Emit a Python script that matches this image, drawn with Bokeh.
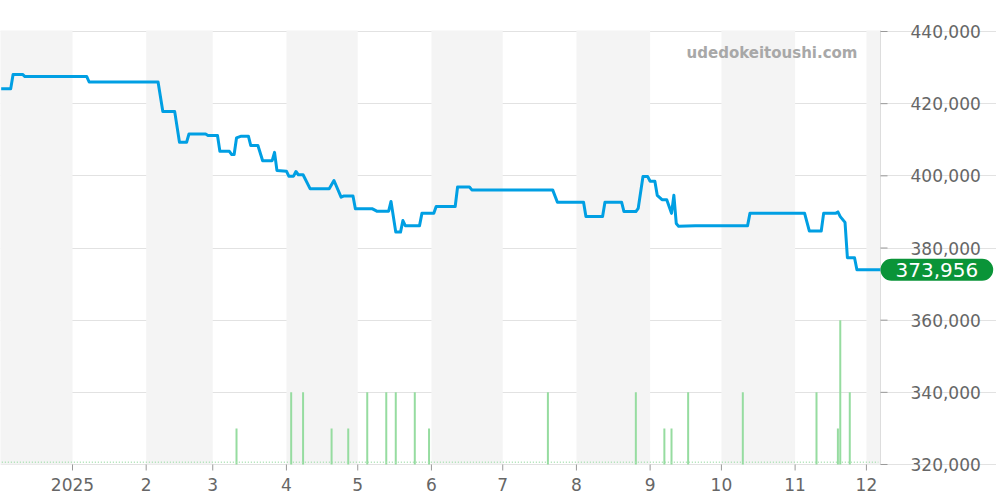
import pandas as pd
from bokeh.plotting import figure
from bokeh.models import (FixedTicker, CustomJSTickFormatter, Range1d, Label, BoxAnnotation)
from bokeh.core.properties import value
from bokeh.embed import file_html
from bokeh.resources import INLINE

# ---- price series (step-like line) ----
line_dates = ["2024-12-02", "2024-12-06", "2024-12-07", "2024-12-11", "2024-12-12", "2025-01-07",
              "2025-01-08", "2025-02-06", "2025-02-08", "2025-02-13", "2025-02-15", "2025-02-18",
              "2025-02-19", "2025-02-26", "2025-02-27", "2025-03-03", "2025-03-04", "2025-03-08",
              "2025-03-09", "2025-03-10", "2025-03-11", "2025-03-13", "2025-03-16", "2025-03-17",
              "2025-03-20", "2025-03-22", "2025-03-26", "2025-03-27", "2025-03-28", "2025-04-01",
              "2025-04-02", "2025-04-04", "2025-04-05", "2025-04-06", "2025-04-08", "2025-04-11",
              "2025-04-19", "2025-04-21", "2025-04-24", "2025-04-25", "2025-04-29", "2025-04-30",
              "2025-05-07", "2025-05-09", "2025-05-14", "2025-05-15", "2025-05-17", "2025-05-19",
              "2025-05-20", "2025-05-21", "2025-05-27", "2025-05-28", "2025-06-02", "2025-06-03",
              "2025-06-11", "2025-06-12", "2025-06-17", "2025-06-18", "2025-07-22", "2025-07-24",
              "2025-08-04", "2025-08-05", "2025-08-12", "2025-08-13", "2025-08-20", "2025-08-21",
              "2025-08-26", "2025-08-27", "2025-08-29", "2025-08-31", "2025-09-01", "2025-09-03",
              "2025-09-04", "2025-09-06", "2025-09-08", "2025-09-10", "2025-09-11", "2025-09-12",
              "2025-09-13", "2025-09-20", "2025-10-12", "2025-10-13", "2025-11-05", "2025-11-07",
              "2025-11-12", "2025-11-13", "2025-11-18", "2025-11-19", "2025-11-20", "2025-11-22",
              "2025-11-23", "2025-11-26", "2025-11-27", "2025-12-06T21:00"]
line_prices = [424100, 424100, 428100, 428100, 427500, 427500,
               426000, 426000, 417800, 417800, 409300, 409300,
               411600, 411600, 411200, 411200, 406800, 406800,
               405900, 405900, 410500, 411000, 411000, 408400,
               408400, 404200, 404200, 406500, 401500, 401300,
               399900, 399900, 401200, 400300, 400300, 396400,
               396400, 398700, 394100, 394400, 394400, 390900,
               390900, 390200, 390200, 392900, 384400, 384400,
               387600, 386200, 386200, 389600, 389600, 391500,
               391500, 396900, 396900, 396100, 396100, 392700,
               392700, 388700, 388700, 392700, 392700, 390100,
               390100, 391000, 399800, 399800, 398500, 398500,
               394600, 393400, 393400, 389600, 394600, 386800,
               386000, 386200, 386200, 389600, 389600, 384700,
               384700, 389600, 389600, 390000, 388700, 387100,
               377300, 377300, 373956, 373956]
latest_price = 373956
latest_label = "373,956"

# ---- volume (counts) ----
vol_dates = ["2025-03-11", "2025-04-03", "2025-04-08", "2025-04-20", "2025-04-27", "2025-05-05",
             "2025-05-13", "2025-05-17", "2025-05-25", "2025-05-31", "2025-07-20", "2025-08-26",
             "2025-09-07", "2025-09-10", "2025-09-17", "2025-10-10", "2025-11-10", "2025-11-19",
             "2025-11-20", "2025-11-24"]
vol_counts = [1, 2, 2, 1, 1, 2, 2, 2, 2, 1, 2, 2, 1, 1, 2, 2, 2, 1, 4, 2]

# ---- axes ----
y_ticks = [320000, 340000, 360000, 380000, 400000, 420000, 440000]
y_tick_labels = ["320,000", "340,000", "360,000", "380,000", "400,000", "420,000", "440,000"]
month_ticks = ["2025-01-01", "2025-02-01", "2025-03-01", "2025-04-01", "2025-05-01", "2025-06-01",
               "2025-07-01", "2025-08-01", "2025-09-01", "2025-10-01", "2025-11-01", "2025-12-01"]
shaded_months = [("2024-11-01", "2025-01-01"), ("2025-02-01", "2025-03-01"), ("2025-04-01", "2025-05-01"),
                 ("2025-06-01", "2025-07-01"), ("2025-08-01", "2025-09-01"), ("2025-10-01", "2025-11-01"),
                 ("2025-12-01", "2026-01-01")]
watermark = "udedokeitoushi.com"

def ms(s):
    return pd.Timestamp(s).value / 1e6

DAY = 86400000.0
PXD = 2.377                       # pixels per day
PXV = 3.608 / 1000                # pixels per price unit
x_start = ms("2025-01-01") - 72 / PXD * DAY
data_end = x_start + 880 / PXD * DAY      # right edge of the plotting area
x_end = x_start + 996 / PXD * DAY         # includes the right-hand scale area
y_lo, y_hi = 320000, 440300               # plotting area
y_start = y_lo - 10 / PXV                 # room for the scale's edge labels
y_end = 440000 + 11 / PXV
VOL_UNIT = 10000                          # one trade = 10,000 on the price scale

p = figure(frame_width=996, frame_height=454, x_axis_type="datetime", y_axis_location="right",
           output_backend="svg", toolbar_location=None,
           x_range=Range1d(x_start, x_end), y_range=Range1d(y_start, y_end),
           min_border_left=0, min_border_top=20, min_border_right=0, min_border_bottom=26)
p.outline_line_color = None
p.background_fill_color = "white"
p.border_fill_color = "white"
p.yaxis.visible = False

for a, b in shaded_months:
    p.add_layout(BoxAnnotation(left=ms(a), right=min(ms(b), data_end), bottom=y_lo, top=y_hi,
                               fill_color="#f4f4f4", fill_alpha=1, line_color=None, level="underlay"))

p.xgrid.visible = False
p.ygrid.grid_line_color = "#e2e2e2"
p.ygrid.ticker = FixedTicker(ticks=y_ticks)
p.ygrid.bounds = (x_start, data_end)

# right-hand value scale
p.segment(x0=[data_end], y0=[y_lo], x1=[data_end], y1=[y_hi], line_color="#dddddd", line_width=1)
p.segment(x0=[data_end] * len(y_ticks), y0=y_ticks, x1=[data_end + 7 / PXD * DAY] * len(y_ticks),
          y1=y_ticks, line_color="#999999", line_width=1)
p.text(x=[data_end + 30 / PXD * DAY] * len(y_ticks), y=y_ticks, text=y_tick_labels,
       text_font=value("DejaVu Sans"), text_font_size="17px", text_color="#666666",
       text_align="left", text_baseline="middle")

# month tick marks below the plotting area
mt = [ms(t) for t in month_ticks]
p.segment(x0=mt, y0=[y_lo] * len(mt), x1=mt, y1=[y_lo - 6 / PXV] * len(mt),
          line_color="#999999", line_width=1)

# volume on its own range (0 at the bottom of the plotting area)
p.extra_y_ranges = {"vol": Range1d((y_start - y_lo) / VOL_UNIT, (y_end - y_lo) / VOL_UNIT)}
vd = pd.to_datetime(vol_dates)
p.segment(x0=vd, y0=[0] * len(vol_counts), x1=vd, y1=vol_counts, y_range_name="vol",
          line_color="#96dca0", line_width=2)
p.line(x=pd.to_datetime(["2024-12-01", "2025-12-06"]), y=[0.06, 0.06], y_range_name="vol",
       line_color="#a8e0b0", line_width=1.5, line_dash="1 2")

# price line
p.line(x=pd.to_datetime(line_dates, format="ISO8601"), y=line_prices, line_color="#009fe3",
       line_width=3, line_join="round")

xa = p.xaxis[0]
xa.ticker = FixedTicker(ticks=mt)
xa.formatter = CustomJSTickFormatter(code="""
const d = new Date(tick);
const m = d.getUTCMonth() + 1;
return m == 1 ? String(d.getUTCFullYear()) : String(m);
""")
xa.major_label_text_font = "DejaVu Sans"
xa.major_label_text_font_size = "17px"
xa.major_label_text_color = "#666666"
xa.axis_line_color = None
xa.major_tick_line_color = None
xa.major_tick_in = 0
xa.major_tick_out = 0
xa.minor_tick_line_color = None
xa.major_label_standoff = 3

# latest price tag
p.add_layout(Label(x=data_end, y=latest_price, text=latest_label, text_color="white",
                   text_font="DejaVu Sans", text_font_size="20px", anchor="center_left",
                   background_fill_color="#0a9438", background_fill_alpha=1,
                   border_radius=15, padding=(15, 4)))

# watermark
p.add_layout(Label(x=x_start + 857 / PXD * DAY, y=434180, text=watermark,
                   text_color="#a8a8a8", text_font="DejaVu Sans", text_font_size="15px",
                   text_font_style="bold", anchor="center_right"))

open("out.html", "w").write(file_html(p, INLINE))
